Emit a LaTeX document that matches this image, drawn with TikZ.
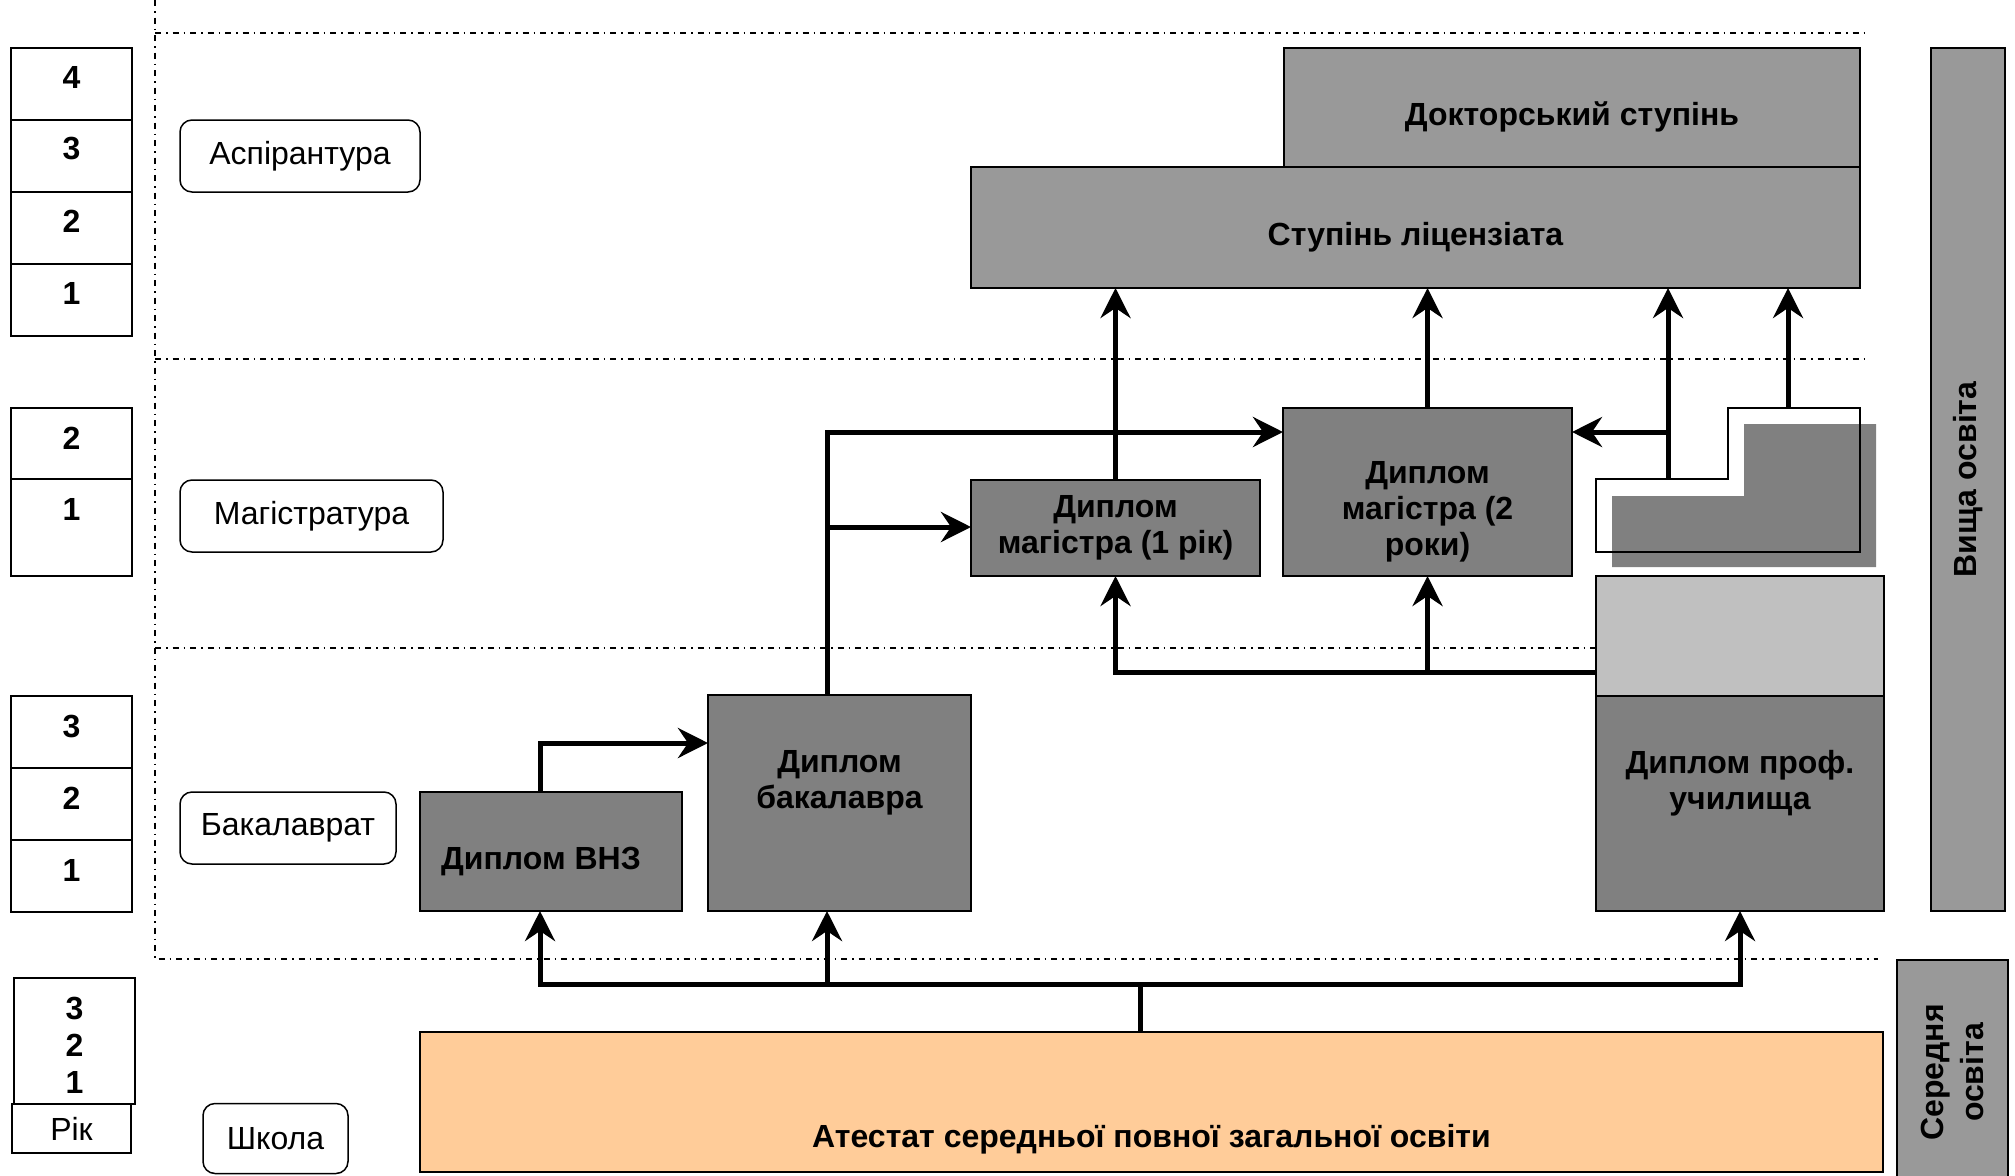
\documentclass[tikz,border=0pt]{standalone}
\usepackage{fontspec}
\setmainfont{Liberation Sans}
\usetikzlibrary{arrows.meta}

\definecolor{degree}{HTML}{999999}
\definecolor{dip}{HTML}{808080}
\definecolor{lite}{HTML}{C0C0C0}
\definecolor{school}{HTML}{FFCC99}

\begin{document}
\begin{tikzpicture}[x=1pt,y=-1pt,
  box/.style={draw,line width=2pt,inner sep=0pt,outer sep=0pt,align=center,
    font=\bfseries\fontsize{32}{36}\selectfont},
  low/.style={text height=42pt},
  tag/.style={draw,line width=1.5pt,rounded corners=12pt,inner sep=0pt,
    font=\fontsize{32}{36}\selectfont},
  yrcell/.style={draw,line width=2pt,inner sep=0pt,minimum width=121pt},
  yrnum/.style={font=\bfseries\fontsize{32}{37}\selectfont,align=center},
  dashdot/.style={line width=1.5pt,dash pattern=on 6pt off 5pt on 1.5pt off 5pt},
  line/.style={line width=5pt},
  arr/.style={line width=5pt,-{Stealth[length=30pt,width=30pt,inset=10pt]}}]
\useasboundingbox (0,0) rectangle (2015,1175);

% level borders
\draw[dashdot] (155,0) -- (155,959) -- (1878,959);
\draw[dashdot] (155,33) -- (1865,33);
\draw[dashdot] (155,359) -- (1865,359);
\draw[dashdot] (155,648) -- (1596,648);

% years
\foreach \n/\t in {4/48,3/120,2/192,1/264} {
\node[yrcell,minimum height=72pt] (yra\n) at (71.5,\t+36) {};
\node[yrnum] (yran\n) at (71.5,\t+29) {\n};
}
\foreach \n/\t/\h in {2/408/71,1/479/97} {
\node[yrcell,minimum height=\h pt] (yrm\n) at (71.5,\t+\h/2) {};
\node[yrnum] (yrmn\n) at (71.5,\t+30) {\n};
}
\foreach \n/\t in {3/696,2/768,1/840} {
\node[yrcell,minimum height=72pt] (yrb\n) at (71.5,\t+36) {};
\node[yrnum] (yrbn\n) at (71.5,\t+30) {\n};
}
\node[yrcell,minimum height=126pt] (yrs) at (74.5,1041) {};
\node[yrnum] (yrsn) at (74.5,1045) {3\\2\\1};
\node[yrcell,minimum width=119pt,minimum height=49pt,font=\fontsize{32}{36}\selectfont] (rik) at (71.5,1128.5) {Рік};

% levels
\node[tag,minimum width=240pt,minimum height=72pt] (asp) at (300,156) {Аспірантура};
\node[tag,minimum width=263pt,minimum height=72pt] (magl) at (311.5,516) {Магістратура};
\node[tag,minimum width=216pt,minimum height=72pt] (bakl) at (288,828) {Бакалаврат};
\node[tag,minimum width=145pt,minimum height=70pt] (schl) at (275.5,1138.5) {Школа};

% degrees
\node[box,low,fill=degree,minimum width=576pt,minimum height=119pt] (doc) at (1572,107.5) {Докторський ступінь};
\node[box,low,fill=degree,minimum width=889pt,minimum height=121pt] (lic) at (1415.5,227.5) {Ступінь ліцензіата};
\node[box,fill=dip,minimum width=289pt,minimum height=96pt] (mag1) at (1115.5,528) {Диплом\\магістра (1 рік)};
\node[box,fill=dip,minimum width=289pt,minimum height=168pt] (mag2) at (1427.5,492) {\strut\\Диплом\\магістра (2\\роки)};
\node[box,fill=lite,minimum width=288pt,minimum height=120pt] (lite) at (1740,636) {};
\node[box,fill=dip,minimum width=288pt,minimum height=215pt] (prof) at (1740,803.5) {Диплом проф.\\училища\\\strut};
\node[box,fill=dip,minimum width=263pt,minimum height=216pt] (bak) at (839.5,803) {Диплом\\бакалавра\\\strut};
\node[box,low,fill=dip,minimum width=262pt,minimum height=119pt] (vnz) at (551,851.5) {Диплом ВНЗ\hspace*{20pt}};
\node[box,fill=school,minimum width=1463pt,minimum height=140pt] (atest) at (1151.5,1102) {\strut\\\strut\\Атестат середньої повної загальної освіти};
\node[box,fill=degree,rotate=90,minimum width=863pt,minimum height=74pt] (high) at (1968,479.5) {Вища освіта};
\node[box,fill=degree,rotate=90,minimum width=225pt,minimum height=111pt,
  font=\bfseries\fontsize{32}{40}\selectfont] (mid) at (1952.5,1072.5) {Середня\\освіта};

% step block
\fill[dip] (1612,496) -- (1744,496) -- (1744,424) -- (1876,424) -- (1876,567) -- (1612,567) -- cycle;
\draw[line width=2pt] (1596,479) -- (1728,479) -- (1728,408) -- (1860,408) -- (1860,552) -- (1596,552) -- cycle;

% paths
\coordinate (bus) at (1140,984);
\coordinate (jm) at (827,527);
\coordinate (lj) at (1668,432);
\coordinate (lfoot) at (1668,479);
\coordinate (lhead) at (1788,408);
\coordinate (pj) at ([yshift=-36pt]lite.west);

\draw[line] (bus) -- (bus |- atest.north);
\draw[arr] (bus) -| ([xshift=-11pt]vnz.south);
\draw[arr] (bus) -| ([xshift=-12.5pt]bak.south);
\draw[arr] (bus) -| (prof.south);

\draw[arr] ([xshift=-11pt]vnz.north) |- ([yshift=60pt]bak.west);
\draw[arr] ([xshift=-12.5pt]bak.north) |- (lj -| mag2.west);
\draw[arr] (jm) -- (jm -| mag1.west);

\draw[arr] (pj) -| (mag1.south);
\draw[arr] (pj -| mag2.south) -- (mag2.south);

\draw[arr] (mag1.north) -- (mag1.north |- lic.south);
\draw[arr] (mag2.north) -- (mag2.north |- lic.south);
\draw[arr] (lfoot) -- (lfoot |- lic.south);
\draw[arr] (lj) -- (lj -| mag2.east);
\draw[arr] (lhead) -- (lhead |- lic.south);
\end{tikzpicture}
\end{document}
